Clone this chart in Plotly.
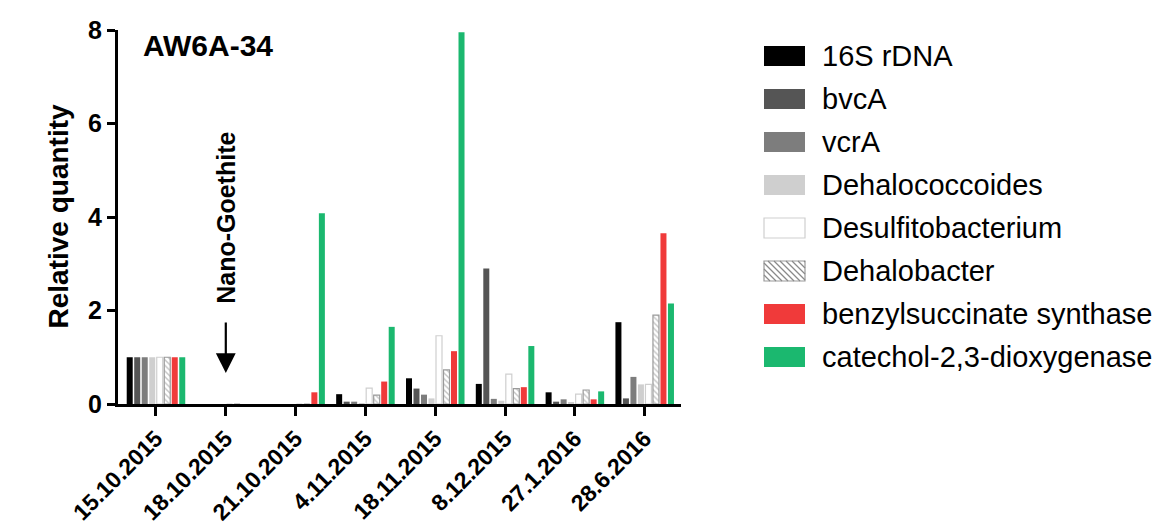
import plotly.graph_objects as go

dates = ["15.10.2015", "18.10.2015", "21.10.2015", "4.11.2015",
         "18.11.2015", "8.12.2015", "27.1.2016", "28.6.2016"]

s16_rdna      = [1.0, 0, 0, 0.21, 0.55, 0.43, 0.25, 1.75]
bvcA          = [1.0, 0, 0, 0.05, 0.33, 2.90, 0.05, 0.12]
vcrA          = [1.0, 0, 0, 0.05, 0.20, 0.11, 0.10, 0.58]
dehalococc    = [1.0, 0, 0, 0.02, 0.12, 0.07, 0.03, 0.42]
desulfito     = [1.0, 0, 0, 0.34, 1.46, 0.64, 0.21, 0.42]
dehalobacter  = [1.0, 0, 0, 0.19, 0.73, 0.33, 0.30, 1.90]
benzylsucc    = [1.0, 0, 0.25, 0.48, 1.13, 0.36, 0.10, 3.65]
catechol      = [1.0, 0, 4.08, 1.65, 7.95, 1.24, 0.27, 2.15]

series_names = ["16S rDNA", "bvcA", "vcrA", "Dehalococcoides", "Desulfitobacterium",
                "Dehalobacter", "benzylsuccinate synthase", "catechol-2,3-dioxygenase"]
series_vals = [s16_rdna, bvcA, vcrA, dehalococc, desulfito, dehalobacter, benzylsucc, catechol]

fills  = ["#000000", "#555555", "#7d7d7d", "#cfcfcf", "#ffffff", "#ffffff", "#f03a3a", "#1bb86f"]
lines  = ["#000000", "#555555", "#7d7d7d", "#cfcfcf", "#cfcfcf", "#9a9a9a", "#f03a3a", "#1bb86f"]

FONT = "Liberation Sans, Arial, sans-serif"

fig = go.Figure()
for name, vals, fc, lc in zip(series_names, series_vals, fills, lines):
    marker = dict(color=fc, line=dict(color=lc, width=1.2 if fc == "#ffffff" else 0))
    if name == "Dehalobacter":
        marker["pattern"] = dict(shape="\\", fgcolor="#8a8a8a", bgcolor="#ffffff", size=4, solidity=0.35)
    fig.add_trace(go.Bar(x=dates, y=vals, name=name, marker=marker, showlegend=False))

W, H = 1176, 529
L, R, T, B = 110, 673, 22, 396

fig.update_layout(
    width=W, height=H,
    margin=dict(l=L, r=W - R, t=T, b=H - B, autoexpand=False),
    plot_bgcolor="white", paper_bgcolor="white",
    barmode="group", bargap=0.14, bargroupgap=0.2,
    font=dict(family=FONT, color="black"),
)
fig.update_xaxes(
    type="category", range=[-0.544, 7.52], automargin=False,
    showline=True, linecolor="black", linewidth=3,
    ticks="outside", ticklen=9, tickwidth=3, tickcolor="black",
    tickangle=-45, tickfont=dict(size=23, family=FONT, weight="bold"),
    showgrid=False, zeroline=False,
)
fig.update_yaxes(
    range=[0, 8], tickvals=[0, 2, 4, 6, 8], automargin=False,
    showline=True, linecolor="black", linewidth=3,
    ticks="outside", ticklen=8, tickwidth=3, tickcolor="black",
    tickfont=dict(size=25, family=FONT, weight="bold"),
    showgrid=False, zeroline=False,
)

def px_x(p):
    return (p - L) / (R - L)

def px_y(p):
    return (B - p) / (B - T)

ann = [
    dict(text="<b>Relative quantity</b>", x=px_x(32), y=px_y(209), xref="paper", yref="paper",
         textangle=-90, showarrow=False, font=dict(size=28, family=FONT)),
    dict(text="<b>AW6A-34</b>", x=px_x(133), y=px_y(38), xref="paper", yref="paper",
         xanchor="left", yanchor="middle", showarrow=False, font=dict(size=30, family=FONT)),
    dict(text="<b>Nano-Goethite</b>", x="18.10.2015", y=px_y(210), xref="x", yref="paper",
         textangle=-90, showarrow=False, font=dict(size=25, family=FONT)),
    dict(text="", x="18.10.2015", y=(B - 365) / ((B - T) / 8), xref="x", yref="y", ax=0, ay=-52,
         showarrow=True, arrowhead=2, arrowsize=1.8, arrowwidth=2.2, arrowcolor="black"),
]

shapes = []
leg_x0, leg_x1 = 756, 797
leg_text_x = 812
leg_y0, leg_dy = 48, 43
for i, (name, fc, lc) in enumerate(zip(series_names, fills, lines)):
    cy = leg_y0 + i * leg_dy
    shapes.append(dict(type="rect", xref="paper", yref="paper",
                       x0=px_x(leg_x0), x1=px_x(leg_x1), y0=px_y(cy + 10), y1=px_y(cy - 10),
                       fillcolor=fc, line=dict(color=lc, width=1.2 if fc == "#ffffff" else 0)))
    if name == "Dehalobacter":
        for k in range(-20, 44, 6):
            xa, ya = leg_x0 + k, cy - 10
            xb, yb = leg_x0 + k + 20, cy + 10
            if xa < leg_x0:
                ya += leg_x0 - xa; xa = leg_x0
            if xb > leg_x1:
                yb -= xb - leg_x1; xb = leg_x1
            if xb <= xa:
                continue
            shapes.append(dict(type="line", xref="paper", yref="paper",
                               x0=px_x(xa), y0=px_y(ya), x1=px_x(xb), y1=px_y(yb),
                               line=dict(color="#8a8a8a", width=1.2)))
    ann.append(dict(text=name, x=px_x(leg_text_x), y=px_y(cy), xref="paper", yref="paper",
                    xanchor="left", yanchor="middle", showarrow=False,
                    font=dict(size=29, family=FONT)))

fig.update_layout(annotations=ann, shapes=shapes)
fig.write_html("out.html")
